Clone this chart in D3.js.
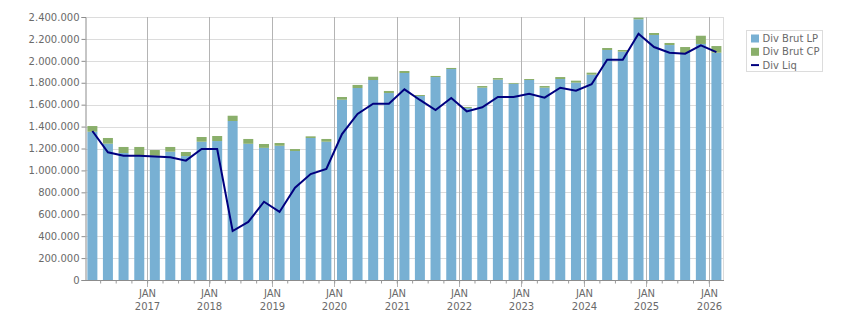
<!DOCTYPE html>
<html>
<head>
<meta charset="utf-8">
<script src="https://cdn.jsdelivr.net/npm/d3@7"></script>
<style>
  body { margin: 0; background: #fff; }
  text { font-family: "DejaVu Sans", Verdana, sans-serif; font-size: 10px; fill: #6a6a6a; }
</style>
</head>
<body>
<div id="chart"></div>
<script>
// quarters shown (one bar each)
var quarters = ['2016Q1','2016Q2','2016Q3','2016Q4',
  '2017Q1','2017Q2','2017Q3','2017Q4',
  '2018Q1','2018Q2','2018Q3','2018Q4',
  '2019Q1','2019Q2','2019Q3','2019Q4',
  '2020Q1','2020Q2','2020Q3','2020Q4',
  '2021Q1','2021Q2','2021Q3','2021Q4',
  '2022Q1','2022Q2','2022Q3','2022Q4',
  '2023Q1','2023Q2','2023Q3','2023Q4',
  '2024Q1','2024Q2','2024Q3','2024Q4',
  '2025Q1','2025Q2','2025Q3','2025Q4',
  '2026Q1'];

// Div Brut LP
var brutLP = [1353000,1244000,1159000,1140000,
  1134000,1171000,1131000,1262000,
  1268000,1451000,1243000,1206000,
  1225000,1177000,1296000,1262000,
  1645000,1752000,1825000,1706000,
  1889000,1679000,1852000,1925000,
  1570000,1755000,1828000,1791000,
  1825000,1755000,1834000,1801000,
  1874000,2099000,2084000,2379000,
  2236000,2144000,2071000,2154000,
  2074000];

// Div Brut CP (stacked on LP)
var brutCP = [52000,52000,55000,74000,
  52000,43000,37000,43000,
  46000,48000,44000,35000,
  25000,18000,15000,25000,
  25000,28000,30000,19000,
  18000,9000,10000,10000,
  9000,15000,15000,7000,
  9000,15000,18000,18000,
  18000,18000,15000,15000,
  18000,19000,55000,75000,
  61000];

// Div Liq
var divLiq = [1360000,1165000,1134000,1134000,
  1128000,1120000,1089000,1195000,
  1195000,447000,530000,714000,
  621000,843000,967000,1013000,
  1332000,1515000,1609000,1609000,
  1740000,1643000,1551000,1661000,
  1539000,1576000,1670000,1670000,
  1700000,1664000,1755000,1728000,
  1786000,2010000,2010000,2248000,
  2126000,2074000,2065000,2141000,
  2080000];

var yTicks = [0,200000,400000,600000,800000,1000000,1200000,1400000,1600000,1800000,2000000,2200000,2400000];
var yearLabels = ['2017','2018','2019','2020','2021','2022','2023','2024','2025','2026'];

var legendItems = [
  {name: 'Div Brut LP', color: '#78b0d3', type: 'rect'},
  {name: 'Div Brut CP', color: '#8aaf6b', type: 'rect'},
  {name: 'Div Liq', color: '#00007f', type: 'line'}
];

var width = 851, height = 313;
var pLeft = 85.5, pRight = 723, pTop = 17, pBottom = 280;

var svg = d3.select('#chart')
    .append('svg')
    .attr('width', width)
    .attr('height', height);

// quarter -> start date / middle date
function qStart(q) {
    return new Date(+q.slice(0, 4), (+q.slice(5) - 1) * 3, 1);
}
function qMid(q) {
    var s = qStart(q);
    var e = d3.timeMonth.offset(s, 3);
    return new Date((+s + +e) / 2);
}

var x = d3.scaleTime()
    .domain([new Date(2016, 0, 1), new Date(2026, 3, 1)])
    .range([84.6, 724.1]);
var y = d3.scaleLinear().domain([0, 2400000]).range([pBottom, pTop]);

var fr = d3.formatLocale({decimal: ',', thousands: '.', grouping: [3], currency: ['', '']});
var fmt = fr.format(',d');

// horizontal grid
svg.append('g').selectAll('line')
    .data(yTicks.slice(1))
    .join('line')
    .attr('x1', pLeft).attr('x2', pRight)
    .attr('y1', d => Math.round(y(d)) + 0.5)
    .attr('y2', d => Math.round(y(d)) + 0.5)
    .attr('stroke', '#dcdcdc');

// right border
svg.append('line')
    .attr('x1', pRight + 0.5).attr('x2', pRight + 0.5)
    .attr('y1', pTop).attr('y2', pBottom)
    .attr('stroke', '#dcdcdc');

// january grid lines
var jans = yearLabels.map(yr => new Date(+yr, 0, 1));
svg.append('g').selectAll('line')
    .data(jans)
    .join('line')
    .attr('x1', d => Math.round(x(d)) + 0.5)
    .attr('x2', d => Math.round(x(d)) + 0.5)
    .attr('y1', pTop).attr('y2', pBottom + 7)
    .attr('stroke', '#b4b4b4');

// bars
var barW = 10;
var bars = svg.append('g');
quarters.forEach((q, i) => {
    var cx = x(qMid(q));
    bars.append('rect')
        .attr('x', cx - barW / 2)
        .attr('width', barW)
        .attr('y', y(brutLP[i]))
        .attr('height', y(0) - y(brutLP[i]))
        .attr('fill', '#78b0d3');
    bars.append('rect')
        .attr('x', cx - barW / 2)
        .attr('width', barW)
        .attr('y', y(brutLP[i] + brutCP[i]))
        .attr('height', y(brutLP[i]) - y(brutLP[i] + brutCP[i]))
        .attr('fill', '#8aaf6b');
});

// line
var line = d3.line()
    .x((d, i) => x(qMid(quarters[i])))
    .y(d => y(d));
svg.append('path')
    .datum(divLiq)
    .attr('d', line)
    .attr('fill', 'none')
    .attr('stroke', '#00007f')
    .attr('stroke-width', 2);

// y axis
var yAxis = svg.append('g')
    .attr('transform', `translate(${pLeft},0)`)
    .call(d3.axisLeft(y).tickValues(yTicks).tickSize(4).tickPadding(2).tickFormat(fmt));
yAxis.select('.domain').attr('stroke', '#8c8c8c');
yAxis.selectAll('.tick line').attr('stroke', '#8c8c8c');
yAxis.selectAll('text').style('font-size', '10px').style('font-family', '"DejaVu Sans", sans-serif').attr('fill', '#6a6a6a');

// x axis (quarter ticks)
var qTicks = quarters.slice(1).map(qStart);
var xAxis = svg.append('g')
    .attr('transform', `translate(0,${pBottom + 0.5})`)
    .call(d3.axisBottom(x).tickValues(qTicks).tickSize(3).tickFormat(''));
xAxis.select('.domain').attr('d', `M${pLeft},0H${pRight + 1}`).attr('stroke', '#8c8c8c');
xAxis.selectAll('.tick line').attr('stroke', '#9a9a9a');

// JAN / year labels
var xl = svg.append('g');
jans.forEach((d, i) => {
    var t = xl.append('text')
        .attr('x', Math.round(x(d)) + 0.5)
        .attr('text-anchor', 'middle');
    t.append('tspan').attr('x', Math.round(x(d)) + 0.5).attr('y', 297).text('JAN');
    t.append('tspan').attr('x', Math.round(x(d)) + 0.5).attr('y', 310).text(yearLabels[i]);
});

// legend
var lg = svg.append('g').attr('transform', 'translate(746.5,30.5)');
lg.append('rect')
    .attr('width', 76).attr('height', 41)
    .attr('fill', '#fff')
    .attr('stroke', '#dcdcdc');
legendItems.forEach((it, i) => {
    var cy = 8 + i * 13.3;
    if (it.type == 'rect') {
        lg.append('rect').attr('x', 4.5).attr('y', cy - 4).attr('width', 8).attr('height', 8).attr('fill', it.color);
    } else {
        lg.append('line').attr('x1', 4.5).attr('x2', 12.5).attr('y1', cy).attr('y2', cy)
            .attr('stroke', it.color).attr('stroke-width', 2);
    }
    lg.append('text').attr('x', 16).attr('y', cy + 3.6).text(it.name);
});
</script>
</body>
</html>
